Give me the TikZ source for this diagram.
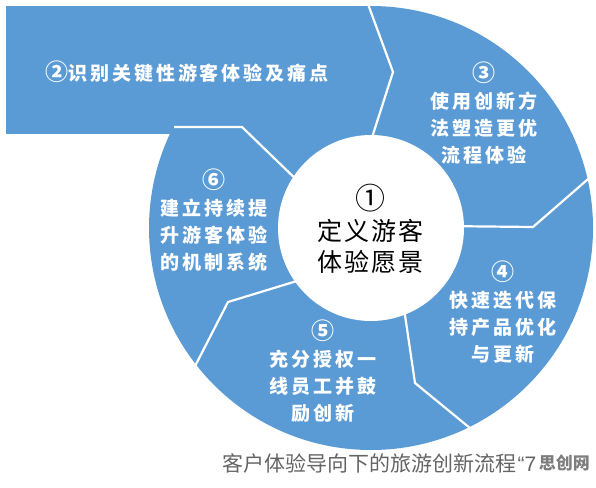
\documentclass[tikz,border=0pt]{standalone}
\usepackage{fontspec}
\newfontfamily\cjk{Noto Sans CJK SC}
\newfontfamily\latin{Liberation Sans}
\newfontfamily\cjksp{Noto Sans CJK SC}[LetterSpace=15]
\newfontfamily\cjkc{Noto Sans CJK SC}[LetterSpace=8]
\definecolor{segblue}{RGB}{91,155,213}
\definecolor{capgray}{RGB}{100,100,100}
\definecolor{markgray}{RGB}{125,125,125}
\newcommand{\segnum}[1]{{\fontsize{23}{27}\selectfont #1}}
\newcommand{\cennum}[1]{{\fontsize{30}{31}\selectfont #1}}
\tikzset{
  divider/.style={draw=white, line width=2.2pt, line join=miter},
  segtext/.style={text=white, align=center, inner sep=0pt,
    font=\cjksp\bfseries\fontsize{19}{27}\selectfont},
  centertext/.style={text=black, align=center, inner sep=0pt,
    font=\cjkc\fontsize{25}{31}\selectfont},
}
\begin{document}
\begin{tikzpicture}[x=1pt,y=-1pt]
\useasboundingbox (0,0) rectangle (596,487);
% blue spiral shape
\fill[segblue] (6,6) rectangle (371,134);
\fill[segblue] (371,228) circle [radius=222];
% dividers
\coordinate (d2a) at (365,-4);
\coordinate (d2b) at (393,72);
\coordinate (d2c) at (368,150);
\draw[divider] (d2a) -- (d2b) -- (d2c);
\coordinate (d3a) at (595,173);
\coordinate (d3b) at (533,227);
\coordinate (d3c) at (440,226);
\draw[divider] (d3a) -- (d3b) -- (d3c);
\coordinate (d4a) at (402,295);
\coordinate (d4b) at (415,383);
\coordinate (d4c) at (476,433);
\draw[divider] (d4a) -- (d4b) -- (d4c);
\coordinate (d5a) at (310,277);
\coordinate (d5b) at (228,302);
\coordinate (d5c) at (192,372);
\draw[divider] (d5a) -- (d5b) -- (d5c);
\coordinate (d6a) at (174,127);
\coordinate (d6b) at (242,127);
\coordinate (d6c) at (305,188);
\draw[divider] (d6a) -- (d6b) -- (d6c);
% centre disc
\node[circle, fill=white, minimum size=186pt, inner sep=0pt] (c1) at (371,228) {};
% texts
\node[centertext] (t1) at (370,229) {\cennum{①}\\定义游客\\体验愿景};
\node[segtext, anchor=center] (t2) at (187,72) {\segnum{②}识别关键性游客体验及痛点};
\node[segtext] (t3) at (484,113) {\segnum{③}\\使用创新方\\法塑造更优\\流程体验};
\node[segtext] (t4) at (503,312) {\segnum{④}\\快速迭代保\\持产品优化\\与更新};
\node[segtext] (t5) at (323,371) {\segnum{⑤}\\充分授权一\\线员工并鼓\\励创新};
\node[segtext] (t6) at (214,220) {\segnum{⑥}\\建立持续提\\升游客体验\\的机制系统};
% caption
\node[anchor=west, inner sep=0pt, text=capgray, font=\cjk\fontsize{21}{21}\selectfont] (cap) at (222,463) {客户体验导向下的旅游创新流程};
\node[anchor=base west, inner sep=0pt, text=capgray, font=\latin\fontsize{21}{21}\selectfont] (capq) at ([xshift=1pt]cap.base east) {“7};
\node[anchor=east, inner sep=0pt, text=markgray, font=\cjk\bfseries\fontsize{17}{17}\selectfont] (mark) at (590,463) {思创网};
\end{tikzpicture}
\end{document}
